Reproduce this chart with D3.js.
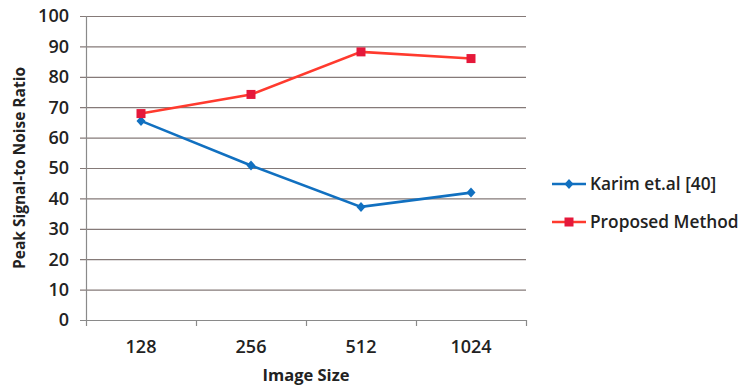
<!DOCTYPE html>
<html><head><meta charset="utf-8">
<script src="https://cdn.jsdelivr.net/npm/d3@7"></script>
<style>body{margin:0;background:#fff}svg{display:block}text{font-family:"Open Sans",sans-serif;fill:#222}</style>
</head><body><svg id="c" width="744" height="387"></svg>
<script>
const categories = ["128","256","512","1024"];
const karim = [65.5, 50.8, 37.2, 41.9];
const proposed = [67.9, 74.2, 88.2, 86.0];
const yTicks = [0,10,20,30,40,50,60,70,80,90,100];
const seriesNames = ["Karim et.al [40]","Proposed Method"];

const svg = d3.select("#c");
const L=86,R=526,T=16,B=320;
const x = d3.scaleBand().domain(categories).range([L,R]);
const y = d3.scaleLinear().domain([0,100]).range([B,T]);

svg.append("g").selectAll("line").data(yTicks).join("line")
  .attr("x1",L-6).attr("x2",R).attr("y1",d=>y(d)+0.5).attr("y2",d=>y(d)+0.5)
  .attr("stroke",d=>d===0?"#8a8a8a":"#857a78").attr("stroke-width",1.2);
svg.append("line").attr("x1",L+0.5).attr("x2",L+0.5).attr("y1",T).attr("y2",B).attr("stroke","#8a8a8a").attr("stroke-width",1.2);
const bounds = categories.map(c=>x(c)).concat([R]);
svg.append("g").selectAll("line").data(bounds).join("line")
  .attr("x1",d=>d+0.5).attr("x2",d=>d+0.5).attr("y1",B).attr("y2",B+6).attr("stroke","#8a8a8a").attr("stroke-width",1.2);
svg.append("g").selectAll("text").data(yTicks).join("text")
  .attr("x",69).attr("y",d=>y(d)).attr("dy","0.35em").attr("text-anchor","end")
  .attr("font-size",18).attr("font-weight",600).text(d=>d);
svg.append("g").selectAll("text").data(categories).join("text")
  .attr("x",d=>x(d)+x.bandwidth()/2).attr("y",353).attr("text-anchor","middle")
  .attr("font-size",18).attr("font-weight",600).text(d=>d);
svg.append("text").attr("x",306).attr("y",381).attr("text-anchor","middle").attr("font-size",16.5).attr("font-weight",700).text("Image Size");
svg.append("text").attr("transform","translate(25,"+((T+B)/2)+") rotate(-90)").attr("text-anchor","middle").attr("font-size",15.5).attr("font-weight",700).text("Peak Signal-to Noise Ratio");

const line = d3.line().x((d,i)=>x(categories[i])+x.bandwidth()/2).y(d=>y(d));
const blue="#1170c0", red="#ff3a2e", redM="#e5183a";
svg.append("path").attr("d",line(karim)).attr("fill","none").attr("stroke",blue).attr("stroke-width",2.6);
svg.append("path").attr("d",line(proposed)).attr("fill","none").attr("stroke",red).attr("stroke-width",2.6);
svg.append("g").selectAll("path").data(karim).join("path")
  .attr("transform",(d,i)=>`translate(${x(categories[i])+x.bandwidth()/2},${y(d)})`)
  .attr("d","M0,-5L4.5,0L0,5L-4.5,0Z").attr("fill",blue);
svg.append("g").selectAll("rect").data(proposed).join("rect")
  .attr("x",(d,i)=>x(categories[i])+x.bandwidth()/2-4.5).attr("y",d=>y(d)-4.5).attr("width",9).attr("height",9).attr("fill",redM);

const lg = svg.append("g");
[[blue,184,"d"],[red,222,"s"]].forEach((s,i)=>{
  lg.append("line").attr("x1",552).attr("x2",586).attr("y1",s[1]).attr("y2",s[1]).attr("stroke",s[0]).attr("stroke-width",2.6);
  if(s[2]==="d") lg.append("path").attr("transform",`translate(569,${s[1]})`).attr("d","M0,-5L4.5,0L0,5L-4.5,0Z").attr("fill",blue);
  else lg.append("rect").attr("x",564.5).attr("y",s[1]-4.5).attr("width",9).attr("height",9).attr("fill",redM);
  lg.append("text").attr("x",590).attr("y",s[1]).attr("dy","0.35em").attr("font-size",17.3).attr("font-weight",600).text(seriesNames[i]);
});
</script></body></html>
